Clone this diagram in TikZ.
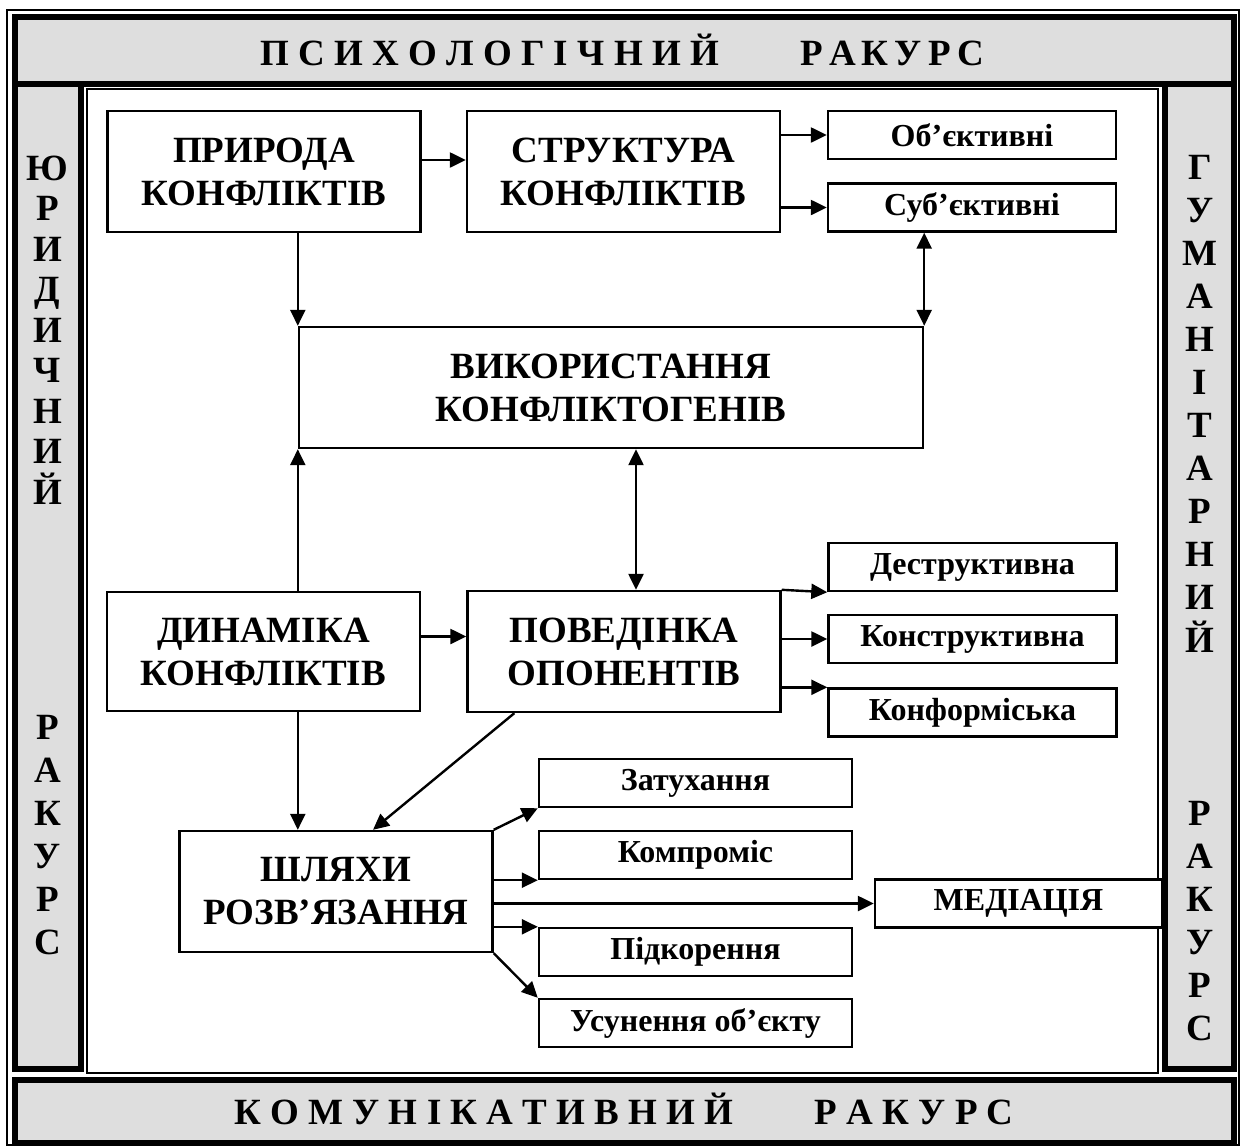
\documentclass[tikz,border=0pt]{standalone}
\usepackage{fontspec}
\setmainfont{Liberation Serif}
\usepackage{tikz}
\usetikzlibrary{positioning,arrows.meta}
\definecolor{bandgray}{gray}{0.87}
\tikzset{
  bigbox/.style={draw, line width=1.2pt, fill=white, align=center,
    minimum width=156.5pt, minimum height=60.5pt, inner sep=2pt,
    font=\fontsize{18.5}{21.5}\selectfont\bfseries},
  smallbox/.style={draw, line width=1.2pt, fill=white, align=center,
    minimum width=144pt, minimum height=24pt, inner sep=1pt,
    font=\fontsize{16}{19}\selectfont\bfseries},
  band/.style={draw, line width=3pt, fill=bandgray},
  arrow/.style={-{Triangle[length=8pt, width=7.5pt]}, line width=1.2pt},
  twoway/.style={{Triangle[length=8pt, width=7.5pt]}-{Triangle[length=8pt, width=7.5pt]}, line width=1.2pt}
}

\begin{document}
\begin{tikzpicture}[x=0.5pt, y=-0.5pt,
            bandtext/.style={font=\fontsize{18.5}{21.5}\selectfont\bfseries, align=center, inner sep=0pt},
            frameline/.style={line width=0.6pt}
            ]
            \useasboundingbox (0,0) rectangle (1243,1146);

            % рамка з ракурсами
            \draw[frameline] (7,10) rectangle (1239,1145);
            \draw[band] (14.5,16.5) rectangle (1233.5,83.5);
            \draw[band] (14.5,83.5) rectangle (81,1068.5);
            \draw[band] (1165,83.5) rectangle (1233.5,1068.5);
            \draw[band] (14.5,1079.5) rectangle (1233.5,1143);
            \draw[frameline] (87,89) rectangle (1158,1073);

            \node[bandtext, anchor=base] (psych) at (622,65) {П С И Х О Л О Г І Ч Н И Й\hspace{2.2em}Р\,А\,К\,У\,Р\,С};
            \node[bandtext, anchor=base] (komun) at (624,1124) {К О М У Н І К А Т И В Н И Й\hspace{2.2em}Р А К У Р С};
            \node[bandtext, font=\fontsize{18.5}{20.25}\selectfont\bfseries] (jur) at (47.5,330) {Ю\\Р\\И\\Д\\И\\Ч\\Н\\И\\Й};
            \node[bandtext] (jurrak) at (47.5,835) {Р\\А\\К\\У\\Р\\С};
            \node[bandtext] (hum) at (1200,404) {Г\\У\\М\\А\\Н\\І\\Т\\А\\Р\\Н\\И\\Й};
            \node[bandtext] (humrak) at (1200,921) {Р\\А\\К\\У\\Р\\С};

            % блоки
            \node (pryroda) [bigbox] at (264,171.5) {ПРИРОДА\\КОНФЛІКТІВ};
            \node (struktura) [bigbox] at (623.5,171.5) {СТРУКТУРА\\КОНФЛІКТІВ};
            \node (obj) [smallbox] at (972,135) {Об’єктивні};
            \node (subj) [smallbox] at (972,207.5) {Суб’єктивні};
            \node (vykor) [bigbox, minimum width=312pt] at (611,387.5) {ВИКОРИСТАННЯ\\КОНФЛІКТОГЕНІВ};
            \node (dynamika) [bigbox, minimum height=59.5pt] at (263.5,651.5) {ДИНАМІКА\\КОНФЛІКТІВ};
            \node (povedinka) [bigbox] at (624,651.5) {ПОВЕДІНКА\\ОПОНЕНТІВ};
            \node (destr) [smallbox] at (972.5,567) {Деструктивна};
            \node (konstr) [smallbox] at (972.5,639) {Конструктивна};
            \node (konform) [smallbox] at (972.5,712.5) {Конформіська};
            \node (shliakhy) [bigbox] at (336,891.5) {ШЛЯХИ\\РОЗВ’ЯЗАННЯ};
            \node (zatukh) [smallbox, minimum width=156.5pt] at (695.5,783) {Затухання};
            \node (kompr) [smallbox, minimum width=156.5pt] at (695.5,855) {Компроміс};
            \node (mediats) [smallbox, minimum width=143.5pt] at (1018.5,903.5) {МЕДІАЦІЯ};
            \node (pidkor) [smallbox, minimum width=156.5pt] at (695.5,952) {Підкорення};
            \node (usun) [smallbox, minimum width=156.5pt] at (695.5,1023) {Усунення об’єкту};

            \coordinate (vp) at ([xshift=6pt]povedinka.north);

            % зв'язки
            \draw[arrow] ([yshift=5.75pt]pryroda.east) -- ([yshift=5.75pt]struktura.west);
            \draw[arrow] (struktura.east |- obj.west) -- (obj.west);
            \draw[arrow] (struktura.east |- subj.west) -- (subj.west);
            \draw[arrow] (vykor.north west |- pryroda.south) -- (vykor.north west);
            \draw[twoway] (vykor.north east |- subj.south) -- (vykor.north east);
            \draw[arrow] (vykor.south west |- dynamika.north) -- (vykor.south west);
            \draw[twoway] (vykor.south -| vp) -- (vp);
            \draw[arrow] ([yshift=7.5pt]dynamika.east) -- ([yshift=7.5pt]povedinka.west);
            \draw[arrow] (povedinka.north east) -- (destr.south west);
            \draw[arrow] (povedinka.east |- konstr.west) -- (konstr.west);
            \draw[arrow] (povedinka.east |- konform.north west) -- (konform.north west);
            \draw[arrow] (dynamika.south -| vykor.west) -- (shliakhy.north -| vykor.west);
            \draw[arrow] ([xshift=24pt]povedinka.south west) -- ([xshift=18.5pt]shliakhy.north);
            \draw[arrow] (shliakhy.north east) -- (zatukh.south west);
            \draw[arrow] (shliakhy.east |- kompr.south west) -- (kompr.south west);
            \draw[arrow] (shliakhy.east |- mediats.west) -- (mediats.west);
            \draw[arrow] (shliakhy.east |- pidkor.north west) -- (pidkor.north west);
            \draw[arrow] (shliakhy.south east) -- (usun.north west);

      \end{tikzpicture}
\end{document}
